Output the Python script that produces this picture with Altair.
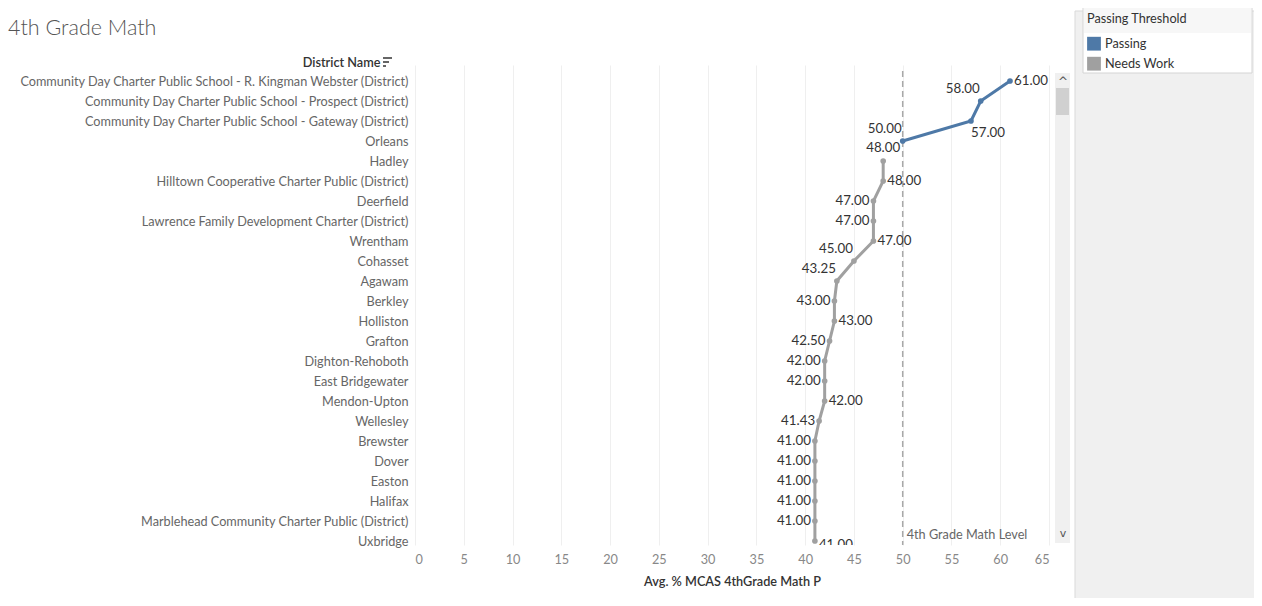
import altair as alt
import pandas as pd

districts = [
    "Community Day Charter Public School - R. Kingman Webster (District)",
    "Community Day Charter Public School - Prospect (District)",
    "Community Day Charter Public School - Gateway (District)",
    "Orleans",
    "Hadley",
    "Hilltown Cooperative Charter Public (District)",
    "Deerfield",
    "Lawrence Family Development Charter (District)",
    "Wrentham",
    "Cohasset",
    "Agawam",
    "Berkley",
    "Holliston",
    "Grafton",
    "Dighton-Rehoboth",
    "East Bridgewater",
    "Mendon-Upton",
    "Wellesley",
    "Brewster",
    "Dover",
    "Easton",
    "Halifax",
    "Marblehead Community Charter Public (District)",
    "Uxbridge",
]
values = [61.00, 58.00, 57.00, 50.00, 48.00, 48.00, 47.00, 47.00, 47.00, 45.00,
          43.25, 43.00, 43.00, 42.50, 42.00, 42.00, 42.00, 41.43, 41.00, 41.00,
          41.00, 41.00, 41.00, 41.00]
threshold = ["Passing"] * 4 + ["Needs Work"] * 20
label_side = ["R", "AL", "BR", "AL", "A", "R", "L", "L", "R", "AL",
              "AL", "L", "R", "L", "L", "L", "R", "L", "L", "L",
              "L", "L", "L", "RB"]
reference_level = 50
reference_label = "4th Grade Math Level"
x_ticks = list(range(0, 70, 5))
legend_order = ["Passing", "Needs Work"]
colors = ["#4e79a7", "#a0a0a0"]

df = pd.DataFrame({
    "district": districts,
    "value": values,
    "threshold": threshold,
    "side": label_side,
    "idx": list(range(len(districts))),
})
df["label"] = df["value"].map(lambda v: f"{v:.2f}")

FONT = "Lato"
FS = 12.7
W, H = 634, 474

xenc = alt.X("value:Q", scale=alt.Scale(domain=[0, 65], nice=False, zero=True),
             axis=alt.Axis(values=x_ticks, grid=True, gridColor="#efefef", domain=False,
                           ticks=False, labelColor="#888888", labelFontSize=FS,
                           labelPadding=8, title="Avg. % MCAS 4thGrade Math P",
                           titleFontSize=FS, titleColor="#333333", titleFontWeight=600,
                           titlePadding=10))
yenc = alt.Y("district:N", sort=districts,
             scale=alt.Scale(domain=districts, range=[0, 480]),
             axis=alt.Axis(domain=False, ticks=False, grid=False, labelColor="#666666",
                           labelFontSize=FS, labelPadding=7, labelLimit=600,
                           title="District Name", titleAngle=0, titleAlign="right",
                           titleBaseline="middle", titleX=-35, titleY=-9,
                           titleFontSize=FS, titleColor="#333333", titleFontWeight=600))
cenc = alt.Color("threshold:N", scale=alt.Scale(domain=legend_order, range=colors),
                 legend=alt.Legend(title="Passing Threshold", orient="none",
                                   legendX=672, legendY=-58, symbolType="square",
                                   symbolSize=190, symbolStrokeWidth=0,
                                   titleFontSize=FS, titleFontWeight="normal",
                                   titleColor="#333333", labelFontSize=FS,
                                   labelColor="#333333", titlePadding=11,
                                   rowPadding=6, padding=0, symbolOpacity=1))

base = alt.Chart(df)

line = base.mark_line(strokeWidth=3, clip=True).encode(
    x=xenc, y=yenc, color=cenc, order="idx:Q", detail="threshold:N")
pts = base.mark_circle(size=32, opacity=1, clip=True).encode(
    x="value:Q", y=alt.Y("district:N", sort=districts),
    color=alt.Color("threshold:N", legend=None))

def lbl(side, **kw):
    return base.transform_filter(alt.datum.side == side).mark_text(
        fontSize=13.3, color="#333333", font=FONT, clip=True, **kw).encode(
        x="value:Q", y=alt.Y("district:N", sort=districts), text="label:N")

labels = [
    lbl("R", align="left", baseline="middle", dx=4),
    lbl("RB", align="left", baseline="middle", dx=4, dy=4),
    lbl("L", align="right", baseline="middle", dx=-4),
    lbl("AL", align="right", baseline="middle", dx=-1, dy=-12),
    lbl("A", align="center", baseline="middle", dy=-13),
    lbl("BR", align="left", baseline="middle", dx=0, dy=12),
]

ref_df = pd.DataFrame({"value": [reference_level], "text": [reference_label]})
rule = alt.Chart(ref_df).mark_rule(color="#a8a8a8", strokeWidth=1.5,
                                   strokeDash=[6, 4]).encode(x="value:Q")
ref_text = alt.Chart(ref_df).mark_text(align="left", baseline="middle", dx=4,
                                       fontSize=FS, color="#666666", font=FONT).encode(
    x="value:Q", y=alt.value(H - 10), text="text:N")

one = pd.DataFrame({"t": ["4th Grade Math"]})
title = alt.Chart(one).mark_text(align="left", baseline="middle", fontSize=21.5,
                                 fontWeight=300, color="#555555", font=FONT).encode(
    x=alt.value(-407), y=alt.value(-42), text="t:N")

panel = alt.Chart(one).mark_rect(fill="#f0f0f0", stroke="#d9d9d9", strokeWidth=1).encode(
    x=alt.value(660), x2=alt.value(900), y=alt.value(-60), y2=alt.value(600))
legbox = alt.Chart(one).mark_rect(fill="white", stroke="#d4d4d4", strokeWidth=1).encode(
    x=alt.value(668), x2=alt.value(837), y=alt.value(-66), y2=alt.value(2))
legtitlebg = alt.Chart(one).mark_rect(fill="#f7f7f7").encode(
    x=alt.value(669), x2=alt.value(836), y=alt.value(-65), y2=alt.value(-38))
scroll = alt.Chart(one).mark_rect(fill="#f0f0f0").encode(
    x=alt.value(640), x2=alt.value(655), y=alt.value(2), y2=alt.value(472))
thumb = alt.Chart(one).mark_rect(fill="#d0d0d0").encode(
    x=alt.value(641), x2=alt.value(654), y=alt.value(17), y2=alt.value(44))
up = alt.Chart(one).mark_text(text="^", fontSize=12, color="#555555", font="DejaVu Sans").encode(
    x=alt.value(648), y=alt.value(11))
down = alt.Chart(one).mark_text(text="v", fontSize=11, color="#555555", font="DejaVu Sans").encode(
    x=alt.value(648), y=alt.value(463))

icon = [
    alt.Chart(one).mark_rule(color="#333333", strokeWidth=1.5).encode(
        x=alt.value(-32), x2=alt.value(-32 + L), y=alt.value(yy))
    for L, yy in [(9, -13), (6, -9), (3, -5)]
]

chart = alt.layer(
    line, panel, legbox, legtitlebg, scroll, thumb, up, down, rule, ref_text,
    pts, *labels, title, *icon
).properties(
    width=W, height=H,
    autosize=alt.AutoSizeParams(type="none"),
    padding={"left": 407, "top": 63, "right": 205, "bottom": 53},
    background="white",
).configure(font=FONT).configure_view(strokeWidth=0, strokeOpacity=0)

chart.save("out.html", embed_options={"renderer": "svg", "actions": False})
